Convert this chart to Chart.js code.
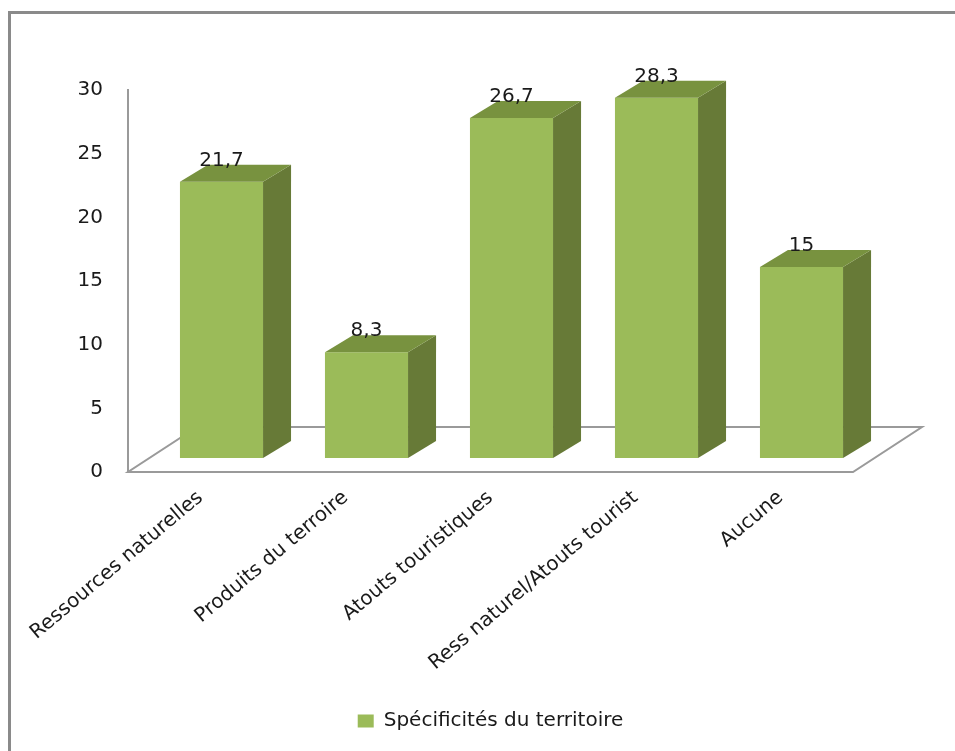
<!DOCTYPE html>
<html>
<head>
<meta charset="utf-8">
<script src="https://cdn.jsdelivr.net/npm/chart.js@4.4.1/dist/chart.umd.min.js"></script>
<style>
  html, body { margin: 0; padding: 0; background: #fff; }
  canvas { display: block; }
</style>
</head>
<body>
<canvas id="specChart" width="955" height="751"></canvas>
<script>
const categories = ['Ressources naturelles', 'Produits du terroire', 'Atouts touristiques', 'Ress naturel/Atouts tourist', 'Aucune'];
const values = [21.7, 8.3, 26.7, 28.3, 15];
const yTicks = [0, 5, 10, 15, 20, 25, 30];
const seriesName = 'Spécificités du territoire';

const FONT = 'DejaVu Sans';
const TEXT = '#1a1a1a';
const FRONT = '#9bbb59';
const SIDE = '#677a37';
const TOP = '#78923f';

// depth of the floor and of the bars (3d look)
const floorDepth = { x: 69, y: -45 };
const barShift = { x: 21, y: -14 };
const barDepth = { x: 28, y: -17 };

const pseudo3d = {
  id: 'pseudo3d',
  beforeDraw(chart) {
    const c = chart.ctx;
    c.save();
    c.strokeStyle = '#8a8a8a';
    c.lineWidth = 3;
    c.strokeRect(9.5, 12.5, 1000, 800);
    c.restore();
  },
  beforeDatasetsDraw(chart) {
    const c = chart.ctx;
    const a = chart.chartArea;
    c.save();
    c.beginPath();
    c.moveTo(a.left, a.bottom);
    c.lineTo(a.right, a.bottom);
    c.lineTo(a.right + floorDepth.x, a.bottom + floorDepth.y);
    c.lineTo(a.left + floorDepth.x, a.bottom + floorDepth.y);
    c.closePath();
    c.fillStyle = '#fff';
    c.fill();
    c.strokeStyle = '#9a9a9a';
    c.lineWidth = 2;
    c.stroke();
    c.restore();

    c.save();
    c.translate(barShift.x, barShift.y);
  },
  afterDatasetsDraw(chart) {
    const c = chart.ctx;
    const meta = chart.getDatasetMeta(0);
    meta.data.forEach((bar, i) => {
      const l = bar.x - bar.width / 2;
      const r = bar.x + bar.width / 2;
      const t = bar.y, b = bar.base;
      const dx = barDepth.x, dy = barDepth.y;
      c.fillStyle = SIDE;
      c.beginPath();
      c.moveTo(r, t); c.lineTo(r + dx, t + dy); c.lineTo(r + dx, b + dy); c.lineTo(r, b);
      c.closePath(); c.fill();
      c.fillStyle = TOP;
      c.beginPath();
      c.moveTo(l, t); c.lineTo(r, t); c.lineTo(r + dx, t + dy); c.lineTo(l + dx, t + dy);
      c.closePath(); c.fill();

      c.fillStyle = TEXT;
      c.font = '20px "' + FONT + '"';
      c.textAlign = 'center';
      c.textBaseline = 'alphabetic';
      c.fillText(String(values[i]).replace('.', ','), bar.x, t + dy + 1);
    });
    c.restore();
  }
};

new Chart(document.getElementById('specChart'), {
  type: 'bar',
  data: {
    labels: categories,
    datasets: [{
      label: seriesName,
      data: values,
      backgroundColor: FRONT,
      borderWidth: 0,
      barPercentage: 0.573,
      categoryPercentage: 1,
      clip: false
    }]
  },
  options: {
    responsive: false,
    animation: false,
    layout: { padding: { left: 0, top: 90, right: 102, bottom: 10 } },
    plugins: {
      tooltip: { enabled: false },
      legend: {
        position: 'bottom',
        fullSize: false,
        labels: {
          color: TEXT,
          font: { family: FONT, size: 20 },
          boxWidth: 16,
          boxHeight: 13
        }
      }
    },
    scales: {
      x: {
        grid: { display: false, drawTicks: false },
        border: { display: false },
        ticks: {
          color: TEXT,
          font: { family: FONT, size: 20 },
          minRotation: 40,
          maxRotation: 40,
          padding: 14
        },
        afterFit(s) { s.height = 229; }
      },
      y: {
        min: 0,
        max: 30,
        afterBuildTicks(s) { s.ticks = yTicks.map(v => ({ value: v })); },
        grid: { display: false, drawTicks: false },
        border: { display: true, color: '#9a9a9a', width: 2 },
        ticks: {
          color: TEXT,
          font: { family: FONT, size: 20 },
          padding: 25
        },
        afterFit(s) { s.width = 128; }
      }
    }
  },
  plugins: [pseudo3d]
});
</script>
</body>
</html>
